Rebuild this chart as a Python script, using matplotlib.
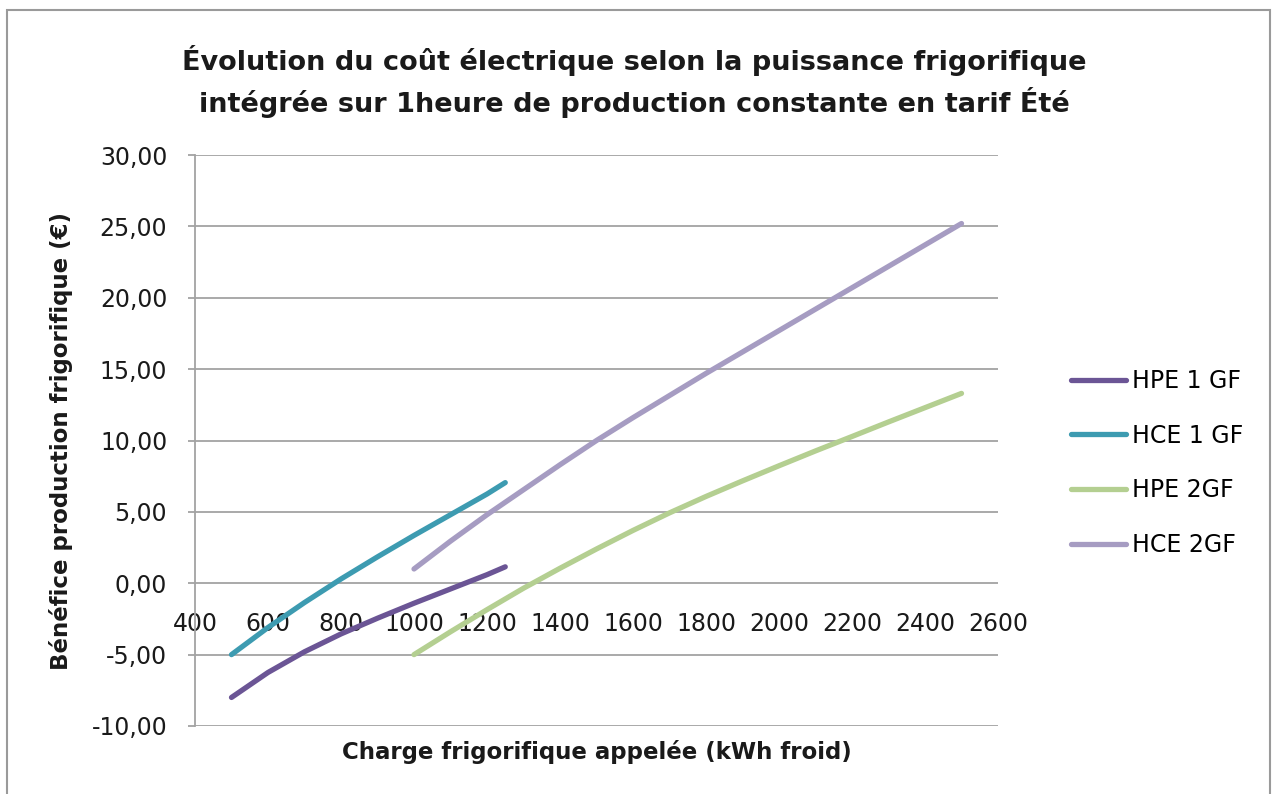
import matplotlib
matplotlib.use("Agg")
import matplotlib.pyplot as plt
from matplotlib.ticker import FuncFormatter, MultipleLocator
from matplotlib.patches import Rectangle

# data
x_1gf = [500, 600, 700, 800, 900, 1000, 1100, 1200, 1250]
hpe_1gf = [-8.0, -6.25, -4.8, -3.55, -2.45, -1.4, -0.4, 0.6, 1.15]
hce_1gf = [-5.0, -3.1, -1.35, 0.3, 1.85, 3.35, 4.8, 6.25, 7.05]

x_2gf = [1000, 1100, 1200, 1300, 1400, 1500, 1600, 1700,
         1800, 1900, 2000, 2100, 2200, 2300, 2400, 2500]
hpe_2gf = [-5.0, -3.4, -1.85, -0.35, 1.05, 2.4, 3.7, 4.93,
           6.08, 7.17, 8.23, 9.27, 10.28, 11.3, 12.3, 13.3]
hce_2gf = [1.0, 2.95, 4.8, 6.55, 8.3, 10.0, 11.6, 13.15,
           14.7, 16.2, 17.7, 19.2, 20.7, 22.2, 23.7, 25.2]

series_labels = ["HPE 1 GF", "HCE 1 GF", "HPE 2GF", "HCE 2GF"]
series_colors = ["#6b5595", "#3d9bb1", "#b4cf91", "#a69cc2"]

title_lines = ["Évolution du coût électrique selon la puissance frigorifique",
               "intégrée sur 1heure de production constante en tarif Été"]
x_title = "Charge frigorifique appelée (kWh froid)"
y_title = "Bénéfice production frigorifique (€)"

fig = plt.figure(figsize=(12.72, 7.94), dpi=100)
W, H = 1272, 794
ax = fig.add_axes([195 / W, 1 - 726 / H, 803 / W, 571 / H])

xs = [x_1gf, x_1gf, x_2gf, x_2gf]
ys = [hpe_1gf, hce_1gf, hpe_2gf, hce_2gf]
for x, y, lab, col in zip(xs, ys, series_labels, series_colors):
    ax.plot(x, y, color=col, lw=3.8, label=lab, solid_capstyle="round",
            solid_joinstyle="round")

ax.set_xlim(400, 2600)
ax.set_ylim(-10, 30)
ax.xaxis.set_major_locator(MultipleLocator(200))
ax.yaxis.set_major_locator(MultipleLocator(5))
ax.yaxis.set_major_formatter(FuncFormatter(lambda v, p: f"{v:.2f}".replace(".", ",")))

ax.grid(axis="y", color="#a3a3a3", lw=1.3)
ax.set_axisbelow(True)
for s in ["top", "right"]:
    ax.spines[s].set_visible(False)
ax.spines["bottom"].set_position(("data", 0))
ax.spines["bottom"].set_visible(False)
ax.spines["left"].set_color("#a3a3a3")
ax.spines["left"].set_linewidth(1.3)

ax.tick_params(axis="x", length=0, pad=21, labelsize=17, colors="#1a1a1a")
ax.tick_params(axis="y", length=5, width=1.3, color="#a3a3a3", pad=15,
               labelsize=17, labelcolor="#1a1a1a")

ax.set_xlabel(x_title, fontsize=16.5, fontweight="bold", color="#1a1a1a")
ax.xaxis.set_label_coords(0.5, -0.025)
ax.set_ylabel(y_title, fontsize=16.5, fontweight="bold", color="#1a1a1a")
ax.yaxis.set_label_coords(-0.152, 0.5)

fig.text(634 / W, 1 - 60 / H, title_lines[0], ha="center", va="center",
         fontsize=19.5, fontweight="bold", color="#1a1a1a")
fig.text(634 / W, 1 - 103 / H, title_lines[1], ha="center", va="center",
         fontsize=19.5, fontweight="bold", color="#1a1a1a")

leg = ax.legend(loc="center left", bbox_to_anchor=(1.065, 0.4606), frameon=False,
                fontsize=17, handlelength=2.3, handletextpad=0.25,
                labelspacing=1.3)

fig.patches.append(Rectangle((7 / W, -0.02), 1263 / W, 1.02 - 10 / H,
                             transform=fig.transFigure, fill=False,
                             edgecolor="#9a9a9a", lw=1.5))

fig.savefig("out.png", dpi=100)
